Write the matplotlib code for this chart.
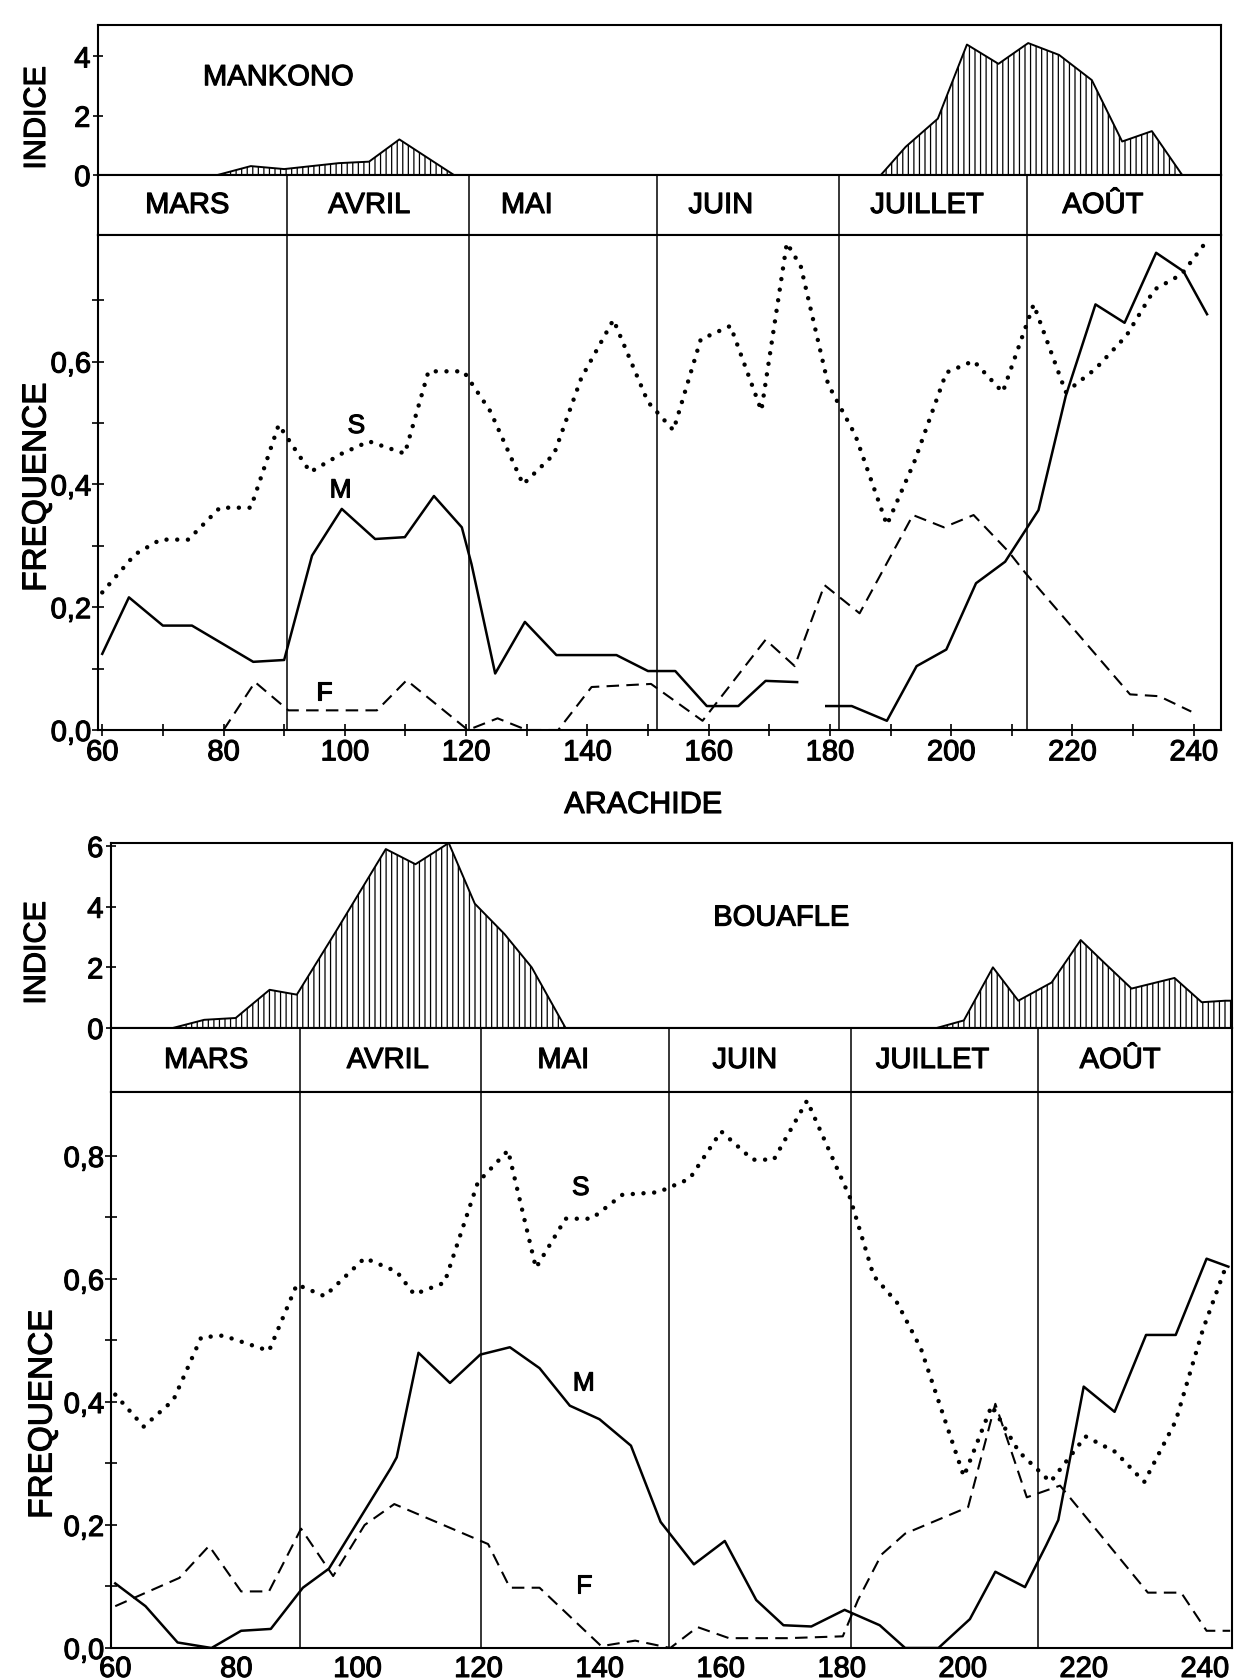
import numpy as np
import matplotlib.pyplot as plt
import matplotlib.patheffects as pe
from matplotlib.ticker import FuncFormatter, FixedLocator

plt.rcParams['font.family'] = ['Liberation Sans', 'DejaVu Sans']
plt.rcParams['hatch.linewidth'] = 0.9

# --- donnees : MANKONO (haut) ---
mois = ["MARS", "AVRIL", "MAI", "JUIN", "JUILLET", "AOÛT"]
limites_mois = [90.5, 120.5, 151.5, 181.5, 212.5]

mk_ind_x1 = [79, 84.5, 90, 99, 104, 109, 118]
mk_ind_y1 = [0, 0.3, 0.2, 0.4, 0.45, 1.2, 0]
mk_ind_x2 = [188.4, 192.5, 197.8, 202.6, 207.8, 212.7, 217.8, 223.2, 228.2, 233.1, 238.1]
mk_ind_y2 = [0, 0.95, 1.9, 4.4, 3.75, 4.45, 4.05, 3.2, 1.13, 1.48, 0]

mk_s_x = [60, 65.4, 69.6, 74.2, 79.4, 84.5, 89.1, 94.3, 99.5, 104, 109.9, 113.8, 119.6,
          124, 129.4, 134.5, 139, 144.3, 150, 154.2, 158.7, 163.6, 168.7, 172.9, 175.2,
          179.7, 184.2, 189.4, 193.9, 199.2, 203.7, 208.5, 213.6, 218.9, 223.8, 228.9,
          233.5, 238, 241.9]
mk_s_y = [0.224, 0.286, 0.31, 0.31, 0.362, 0.362, 0.497, 0.42, 0.45, 0.47, 0.45, 0.584,
          0.584, 0.519, 0.40, 0.449, 0.573, 0.668, 0.534, 0.488, 0.636, 0.658, 0.52,
          0.793, 0.755, 0.563, 0.48, 0.334, 0.436, 0.582, 0.601, 0.55, 0.693, 0.55,
          0.588, 0.642, 0.717, 0.742, 0.793]

mk_m_x = [60, 64.4, 70, 74.8, 84.9, 90, 94.6, 99.5, 105, 109.9, 114.7, 119.3, 120.9,
          124.8, 129.7, 134.9, 144.8, 150, 154.5, 159.7, 164.9, 169.4, 174.6, np.nan,
          179.4, 183.6, 189.4, 194.3, 199.2, 204.1, 208.9, 214.4, 218.9, 223.8, 228.6,
          233.8, 238.3, 242.2]
mk_m_y = [0.124, 0.216, 0.17, 0.17, 0.111, 0.114, 0.284, 0.36, 0.311, 0.314, 0.381,
          0.33, 0.27, 0.092, 0.176, 0.122, 0.122, 0.096, 0.096, 0.039, 0.039, 0.08,
          0.078, np.nan, 0.039, 0.039, 0.015, 0.104, 0.131, 0.239, 0.274, 0.358, 0.544,
          0.693, 0.663, 0.777, 0.747, 0.677]

mk_f_x = [80, 85.2, 90.7, 105.3, 110.2, 120.3, 125.2, 130, 135.2, 140.7, 150.5, 159,
          169.4, 174.2, 179.1, 184.9, 193.7, 198.8, 203.7, 209.5, 212.3, 229.5, 234.3,
          239.6]
mk_f_y = [0, 0.078, 0.032, 0.032, 0.081, 0, 0.019, 0, 0, 0.07, 0.075, 0.015, 0.147,
          0.104, 0.236, 0.19, 0.35, 0.33, 0.35, 0.29, 0.255, 0.058, 0.055, 0.03]

# --- donnees : BOUAFLE (bas) ---
bo_ind_x1 = [69.5, 74.7, 79.9, 85.5, 90, 96.2, 104.7, 109.6, 115.1, 119.4, 124.3, 128.8, 134.4]
bo_ind_y1 = [0, 0.27, 0.33, 1.26, 1.1, 3.1, 5.9, 5.4, 6.1, 4.1, 3.1, 2.0, 0]
bo_ind_x2 = [195.7, 200.2, 205, 209.2, 214.7, 219.5, 223.4, 227.9, 235, 239.5, 243.4, 244.8]
bo_ind_y2 = [0, 0.25, 2.0, 0.9, 1.5, 2.9, 2.15, 1.3, 1.65, 0.85, 0.9, 0.9]

bo_s_x = [60, 64.7, 69.6, 74.2, 77.8, 85.4, 90, 94.6, 101.2, 106.5, 109.4, 114.4, 119.9,
          124.9, 129.5, 134.4, 138.7, 143.8, 149.7, 154.9, 160.1, 165.3, 168.8, 174.3,
          181.4, 185.3, 189.2, 193.1, 200.2, 204.8, 209.3, 214.5, 220.3, 225.2, 230,
          235.2, 239.7, 243.6]
bo_s_y = [0.412, 0.36, 0.403, 0.505, 0.508, 0.483, 0.591, 0.572, 0.634, 0.612, 0.575,
          0.594, 0.757, 0.809, 0.618, 0.698, 0.698, 0.737, 0.741, 0.763, 0.84, 0.794,
          0.794, 0.89, 0.732, 0.605, 0.561, 0.487, 0.279, 0.394, 0.319, 0.27, 0.344,
          0.319, 0.27, 0.369, 0.518, 0.623]

bo_m_x = [60, 65, 70.3, 75.9, 80.8, 85.7, 91, 95.3, 105.5, 106.5, 110.1, 115.3, 120.3,
          125.2, 130.1, 135.1, 140, 145.2, 150.1, 155.6, 160.7, 165.9, 170.4, 175, 180.5,
          186.3, 190.5, 196, 201.2, 205.4, 210.3, 213.8, 215.8, 220, 225.1, 230.3, 235.2,
          240.3, 243.9]
bo_m_y = [0.105, 0.068, 0.009, 0.0, 0.028, 0.031, 0.098, 0.129, 0.292, 0.31, 0.48, 0.431,
          0.477, 0.489, 0.455, 0.394, 0.372, 0.329, 0.205, 0.136, 0.174, 0.078, 0.037,
          0.035, 0.062, 0.037, 0.0, 0.0, 0.047, 0.124, 0.099, 0.167, 0.208, 0.425, 0.384,
          0.509, 0.509, 0.633, 0.62]

bo_f_x = [60, 70.6, 75.5, 80.8, 85.4, 90.7, 96, 101.2, 106.1, 121.6, 125.2, 130.1, 140.3,
          145.9, 151.7, 156.2, 161.4, 171.1, 180.2, 182.7, 186.6, 190.5, 200.9, 205.4,
          210.6, 216.1, 230.6, 236.1, 240.3, 244.2]
bo_f_y = [0.068, 0.114, 0.166, 0.092, 0.092, 0.194, 0.117, 0.2, 0.234, 0.169, 0.098,
          0.098, 0.003, 0.012, 0.0, 0.034, 0.016, 0.016, 0.019, 0.078, 0.152, 0.186,
          0.229, 0.397, 0.245, 0.264, 0.09, 0.09, 0.028, 0.028]

# --- mise en page (pixels de la figure) ---
W, H = 1237, 1680
XLIM = (59.3, 244.5)
TXT = [pe.withStroke(linewidth=0.8, foreground="black")]


def box(l, t, r, b):
    return [l / W, 1 - b / H, (r - l) / W, (b - t) / H]


virgule = FuncFormatter(lambda v, p: f"{v:.1f}".replace(".", ","))


def panneau(fig, left, right, y_ind, y_band, y_freq, ind_top, freq_top, ind_ticks,
            freq_major, freq_minor, ind_parts, s, m, f, nom, nom_pos, mois_x,
            lettres, xticks_visible):
    # indice
    ax = fig.add_axes(box(left, y_ind[0], right, y_ind[1]))
    for xs, ys in ind_parts:
        ax.fill_between(xs, ys, 0, facecolor="white", edgecolor="black",
                        hatch="|||", linewidth=0)
        ax.plot(xs, ys, color="black", lw=1.4)
    ax.set_xlim(*XLIM)
    ax.set_ylim(0, ind_top)
    ax.set_xticks([])
    ax.set_yticks(ind_ticks)
    ax.tick_params(axis="y", direction="inout", length=7, width=1.2, labelsize=21, pad=2)
    ax.text(nom_pos[0], nom_pos[1], nom, fontsize=21, ha="center", va="center",
            path_effects=TXT)

    # bande des mois
    axb = fig.add_axes(box(left, y_band[0], right, y_band[1]))
    axb.set_xlim(*XLIM)
    axb.set_ylim(0, 1)
    axb.set_xticks([])
    axb.set_yticks([])
    for b in limites_mois:
        axb.axvline(b, color="black", lw=1.1)
    for nm, xm in zip(mois, mois_x):
        axb.text(xm, 0.5, nm, fontsize=21, ha="center", va="center", path_effects=TXT)

    # frequence
    axf = fig.add_axes(box(left, y_freq[0], right, y_freq[1]))
    axf.plot(s[0], s[1], color="black", lw=3.2, linestyle=(0, (0.01, 2.4)),
             dash_capstyle="round")
    axf.plot(m[0], m[1], color="black", lw=1.8)
    axf.plot(f[0], f[1], color="black", lw=1.5, linestyle=(0, (6, 3.5)))
    for b in limites_mois:
        axf.axvline(b, color="black", lw=1.1)
    axf.set_xlim(*XLIM)
    axf.set_ylim(0, freq_top)
    axf.yaxis.set_major_locator(FixedLocator(freq_major))
    axf.yaxis.set_minor_locator(FixedLocator(freq_minor))
    axf.yaxis.set_major_formatter(virgule)
    axf.xaxis.set_major_locator(FixedLocator(np.arange(60, 241, 20)))
    axf.xaxis.set_minor_locator(FixedLocator(np.arange(70, 240, 20)))
    axf.tick_params(axis="y", which="both", direction="inout", length=8, width=1.2,
                    labelsize=21, pad=1)
    if xticks_visible:
        axf.tick_params(axis="x", which="both", direction="inout", length=8,
                        width=1.2, labelsize=21, pad=2)
    else:
        axf.tick_params(axis="x", which="both", length=0, labelsize=21, pad=5)
    for (lt, lx, ly) in lettres:
        axf.text(lx, ly, lt, fontsize=19, ha="center", va="center", path_effects=TXT)

    for a in (ax, axb, axf):
        for sp in a.spines.values():
            sp.set_linewidth(1.5)
        for lab in a.get_xticklabels() + a.get_yticklabels():
            lab.set_path_effects(TXT)
    return ax, axf


fig = plt.figure(figsize=(W / 100, H / 100), dpi=100)
fig.patch.set_facecolor("white")

panneau(fig, 98, 1221, (25, 175), (175, 235), (235, 730), 5.06, 0.806, [0, 2, 4],
        [0, 0.2, 0.4, 0.6], [0.1, 0.3, 0.5, 0.7],
        [(mk_ind_x1, mk_ind_y1), (mk_ind_x2, mk_ind_y2)],
        (mk_s_x, mk_s_y), (mk_m_x, mk_m_y), (mk_f_x, mk_f_y),
        "MANKONO", (89, 3.3), [74, 104, 130, 162, 196, 225],
        [("S", 101.9, 0.495), ("M", 99.3, 0.39), ("F", 96.6, 0.06)], True)

panneau(fig, 111, 1232, (843, 1028), (1028, 1092), (1092, 1648), 6.1, 0.904,
        [0, 2, 4, 6], [0, 0.2, 0.4, 0.6, 0.8], [0.1, 0.3, 0.5, 0.7],
        [(bo_ind_x1, bo_ind_y1), (bo_ind_x2, bo_ind_y2)],
        (bo_s_x, bo_s_y), (bo_m_x, bo_m_y), (bo_f_x, bo_f_y),
        "BOUAFLE", (170, 3.64), [75, 105, 134, 164, 195, 226],
        [("S", 136.9, 0.748), ("M", 137.4, 0.43), ("F", 137.4, 0.10)], False)

for (px, py, t, fs) in [(37, 118, "INDICE", 22), (37, 487, "FREQUENCE", 24),
                        (37, 953, "INDICE", 22), (43, 1414, "FREQUENCE", 24)]:
    fig.text(px / W, 1 - py / H, t, rotation=90, fontsize=fs, ha="center", va="center",
             path_effects=TXT)
fig.text(643 / W, 1 - 805 / H, "ARACHIDE", fontsize=22, ha="center", va="center",
         path_effects=TXT)

fig.savefig("out.png", dpi=100, facecolor="white")
